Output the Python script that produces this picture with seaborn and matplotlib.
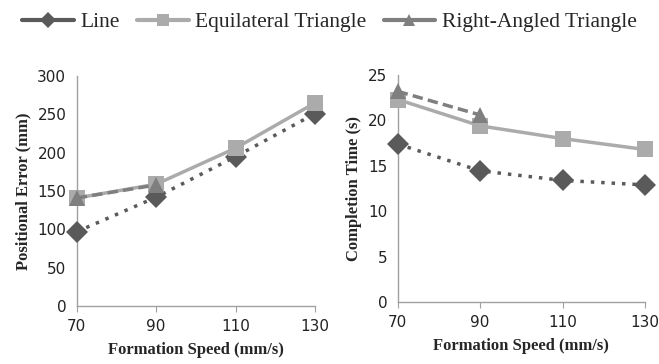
import seaborn as sns
import matplotlib.pyplot as plt
import pandas as pd

# Values
speeds = [70, 90, 110, 130]
line_err = [97, 142, 195, 251]
equi_err = [141, 159, 206, 265]
right_err = [141, 158]
line_time = [17.4, 14.45, 13.4, 12.9]
equi_time = [22.3, 19.4, 18.0, 16.8]
right_time = [23.2, 20.6]

names = ['Line', 'Equilateral Triangle', 'Right-Angled Triangle']

def long_form(a, b, c):
    rows = []
    for name, vals in zip(names, [a, b, c]):
        for s, v in zip(speeds, vals):
            rows.append({'speed': s, 'value': v, 'Formation': name})
    return pd.DataFrame(rows)

err_df = long_form(line_err, equi_err, right_err)
time_df = long_form(line_time, equi_time, right_time)

sns.set_style('white')
plt.rcParams['font.family'] = ['DejaVu Sans']

palette = {'Line': '#5a5a5a', 'Equilateral Triangle': '#ababab', 'Right-Angled Triangle': '#7f7f7f'}
markers = {'Line': 'D', 'Equilateral Triangle': 's', 'Right-Angled Triangle': '^'}
dashes = {'Line': (1, 2), 'Equilateral Triangle': '', 'Right-Angled Triangle': (3, 1.5)}

fig = plt.figure(figsize=(6.59, 3.64), dpi=100)
ax1 = fig.add_axes([0.1164, 0.159, 0.3616, 0.632])
ax2 = fig.add_axes([0.6035, 0.170, 0.3753, 0.624])

for ax, df, ylim, yticks, ylabel in [
    (ax1, err_df, (0, 300), range(0, 301, 50), 'Positional Error (mm)'),
    (ax2, time_df, (0, 25), range(0, 26, 5), 'Completion Time (s)'),
]:
    sns.lineplot(data=df, x='speed', y='value', hue='Formation', style='Formation',
                 hue_order=names, style_order=names, palette=palette,
                 markers=markers, dashes=dashes, markersize=11, linewidth=2.5,
                 markeredgewidth=0, ax=ax, legend=(ax is ax1), zorder=3)
    ax.set_xlim(70, 130)
    ax.set_ylim(*ylim)
    ax.set_xticks(speeds)
    ax.set_yticks(list(yticks))
    ax.set_xlabel('Formation Speed (mm/s)', family='Liberation Serif',
                  fontweight='bold', fontsize=12, labelpad=6)
    ax.set_ylabel(ylabel, family='Liberation Serif', fontweight='bold', fontsize=12,
                  labelpad=4)
    ax.tick_params(axis='both', labelsize=11, colors='#222222', length=4,
                   direction='out', left=False, bottom=True)
    ax.tick_params(axis='x', color='#a0a0a0', pad=5)
    for s in ['top', 'right']:
        ax.spines[s].set_visible(False)
    for s in ['left', 'bottom']:
        ax.spines[s].set_color('#a0a0a0')
        ax.spines[s].set_linewidth(1)
    for m in ax.lines:
        m.set_clip_on(False)

handles, labels = ax1.get_legend_handles_labels()
ax1.get_legend().remove()
for h in handles:
    h.set_linestyle('-')
    h.set_linewidth(3)
fig.legend(handles, labels, loc='upper center', bbox_to_anchor=(0.5, 1.02), ncol=3,
           frameon=False, prop={'family': 'Liberation Serif', 'size': 15.5},
           handlelength=2.4, handletextpad=0.3, columnspacing=0.8, markerscale=0.75)

fig.savefig('out.png', dpi=100)
